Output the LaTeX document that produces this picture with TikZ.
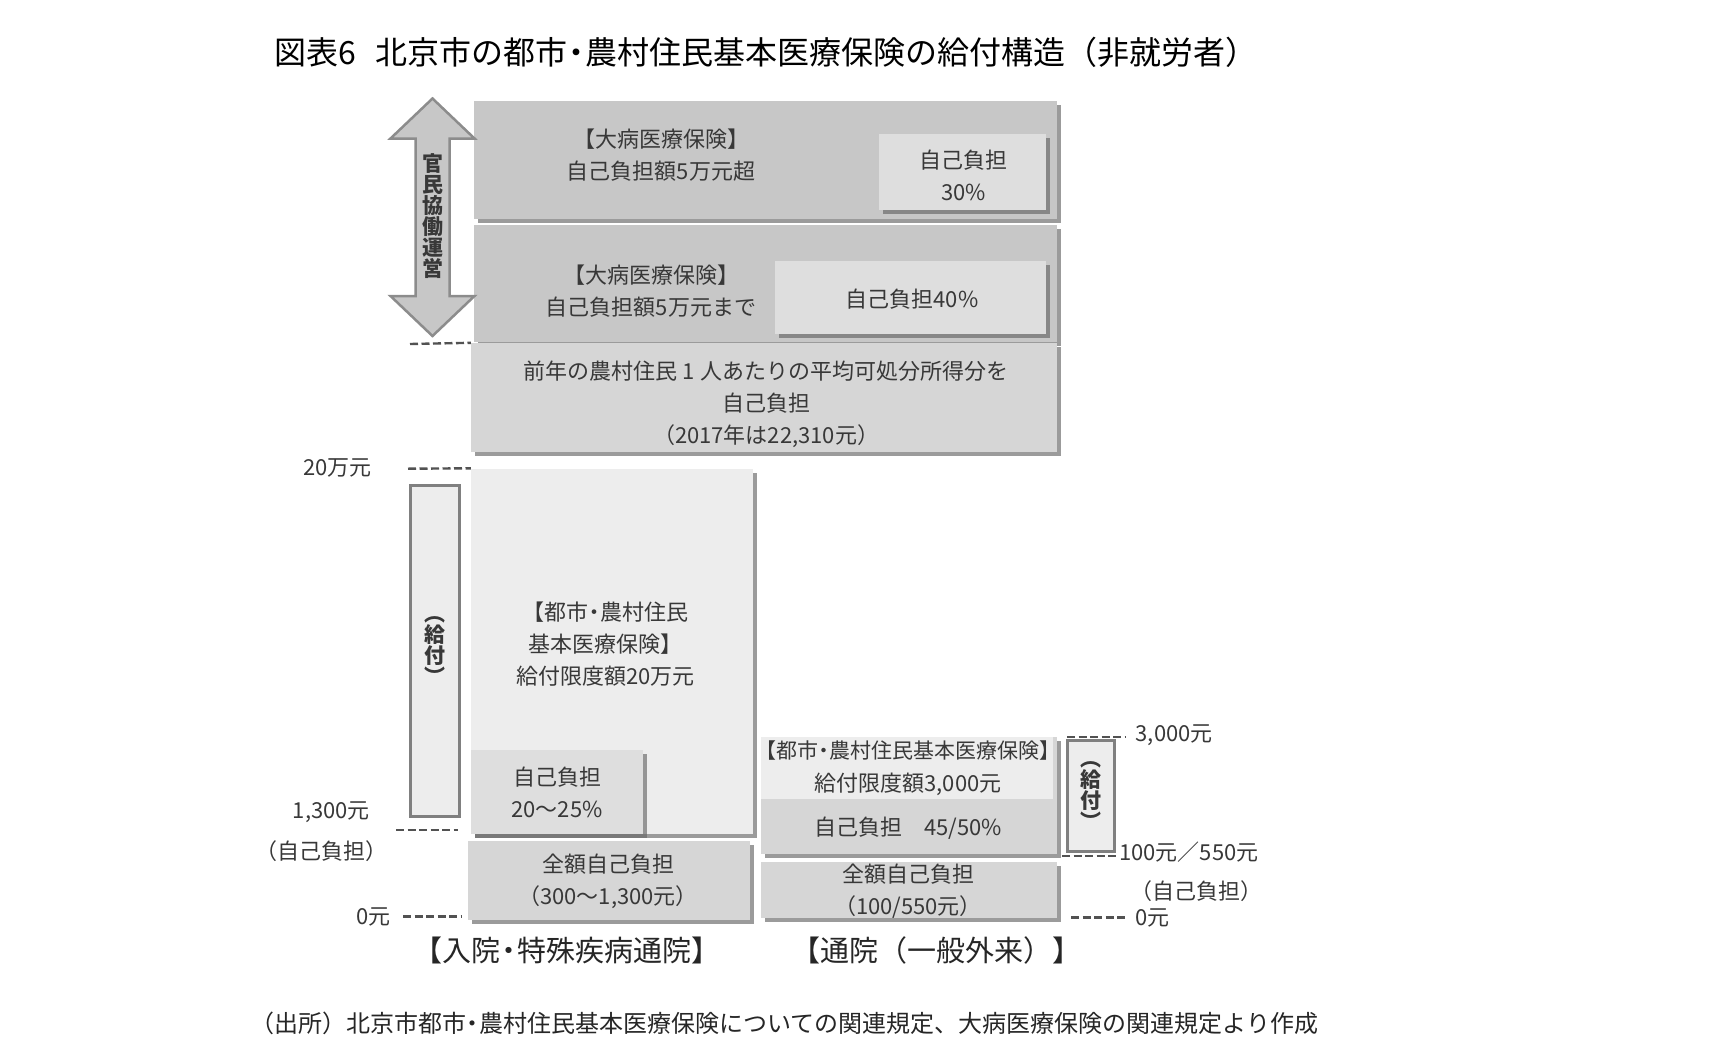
\documentclass[tikz,border=0pt]{standalone}
\usepackage{fontspec}
\setmainfont{Noto Sans CJK JP}
\usetikzlibrary{shadows}
\definecolor{slabdark}{gray}{0.78}
\definecolor{slabpale}{gray}{0.87}
\definecolor{slabmid}{gray}{0.84}
\definecolor{slablight}{gray}{0.93}
\definecolor{inklabel}{gray}{0.22}
\definecolor{rimgray}{gray}{0.5}
\newcommand\ndot{\kern-0.22em・\kern-0.22em}

\begin{document}
\begin{tikzpicture}[x=1pt,y=-1pt,
  slab/.style={fill=#1,inner sep=0pt,drop shadow={shadow xshift=4pt,shadow yshift=-4pt,fill=black!60,opacity=.65}},
  boxtext/.style={align=center,inner sep=0pt,text=inklabel,font=\fontsize{22}{32}\selectfont},
  ticklabel/.style={inner sep=0pt,text=inklabel,font=\fontsize{22}{28}\selectfont},
  dashtick/.style={dash pattern=on 8pt off 3.5pt,line width=2.4pt,draw=black!68},
  benefit/.style={draw=rimgray,line width=3pt,fill=slablight,inner sep=0pt},
  vtext/.style={align=center,inner sep=0pt,text=inklabel,font=\fontsize{21}{21}\selectfont\bfseries},
  groupname/.style={inner sep=0pt,text=black!85,font=\fontsize{29}{34}\selectfont}]
\useasboundingbox (0,0) rectangle (1717,1063);
% title and source
\node[anchor=west,inner sep=0pt,font=\fontsize{32}{36}\selectfont] (title) at (274,52.5){図表6\hspace{0.6em}北京市の都市\ndot 農村住民基本医療保険の給付構造（非就労者）};
\node[anchor=west,inner sep=0pt,text=black!85,font=\fontsize{24}{28}\selectfont] (source) at (250,1023){（出所）北京市都市\ndot 農村住民基本医療保険についての関連規定、大病医療保険の関連規定より作成};
% upper blocks
\node[slab=slabdark,minimum width=583pt,minimum height=118pt] (catHigh) at (765.5,160){};
\node[slab=slabpale,minimum width=167pt,minimum height=76pt] (shareHigh) at (962.5,172){};
\node[slab=slabdark,minimum width=583pt,minimum height=117pt] (catLow) at (765.5,283){};
\node[slab=slabpale,minimum width=271pt,minimum height=73pt] (shareLow) at (910.5,297){};
\node[slab=slabmid,minimum width=586pt,minimum height=109pt] (deductible) at (764,397.5){};
% inpatient blocks
\node[slab=slablight,minimum width=282pt,minimum height=365pt] (inpatient) at (612,651){};
\node[slab=slabpale,minimum width=172pt,minimum height=84pt] (shareIn) at (557,792){};
\node[slab=slabmid,minimum width=282pt,minimum height=79pt] (baseIn) at (609,880.5){};
% outpatient blocks
\node[slab=slabmid,minimum width=296pt,minimum height=117pt] (outpatient) at (909,795.5){};
\node[fill=slablight,inner sep=0pt,minimum width=292pt,minimum height=62pt,anchor=north west] (capOut) at (outpatient.north west){};
\node[slab=slabmid,minimum width=296pt,minimum height=56pt] (baseOut) at (909,890){};
% benefit bars
\node[benefit,minimum width=49pt,minimum height=331pt] (benefitIn) at (435,650.5){};
\node[benefit,minimum width=47pt,minimum height=111pt] (benefitOut) at (1091,795.5){};
\node[vtext] at (benefitIn){︵\\給\\付\\︶};
\node[vtext] at (benefitOut){︵\\給\\付\\︶};
% public-private arrow
\path[draw=black!45,line width=2.5pt,fill=slabdark] (432.5,98.5) -- (474.5,138.5) -- (449.5,138.5) -- (449.5,296) -- (474.5,296) -- (432.5,336) -- (390.5,296) -- (415.5,296) -- (415.5,138.5) -- (390.5,138.5) -- cycle;
\node[vtext] (pppLabel) at (432.5,216){官\\民\\協\\働\\運\\営};
% block texts
\node[boxtext] at (661,155.5){【大病医療保険】\\自己負担額5万元超};
\node[boxtext] at (963.5,175){自己負担\\30\%};
\node[boxtext] at (651,291){【大病医療保険】\\自己負担額5万元まで};
\node[boxtext] at (912,299){自己負担40\%};
\node[boxtext] at (766,404){前年の農村住民 1 人あたりの平均可処分所得分を\\自己負担\\（2017年は22,310元）};
\node[boxtext] at (605.5,644){【都市\ndot 農村住民\\基本医療保険】\\給付限度額20万元};
\node[boxtext] at (shareIn){自己負担\\20～25\%};
\node[boxtext] at (608,881){全額自己負担\\（300～1,300元）};
\node[boxtext,font=\fontsize{21}{32}\selectfont] at (908,751){【都市\ndot 農村住民基本医療保険】};
\node[boxtext] at (908,784){給付限度額3,000元};
\node[boxtext] at (908,828){自己負担\quad 45/50\%};
\node[boxtext] at (908,891){全額自己負担\\（100/550元）};
% scale ticks, inpatient
\draw[dashtick] (410,344) -- (deductible.north west);
\node[ticklabel,anchor=east] (lbl200k) at (372,468){20万元};
\draw[dashtick] (408,468.7) -- (inpatient.north west);
\node[ticklabel,anchor=east] (lbl1300) at (370,812.5){1,300元};
\node[ticklabel] (lblOwnIn) at (321,851){（自己負担）};
\draw[dashtick] (396,830) -- (458,830);
\node[ticklabel,anchor=east] (lblZeroIn) at (391,916.5){0元};
\draw[dashtick] (403,916.5) -- (462,916.5);
% scale ticks, outpatient
\draw[dashtick] (1067,737) -- (1126,737);
\node[ticklabel,anchor=west] (lbl3000) at (1135.5,735){3,000元};
\draw[dashtick] (1062,856) -- (1117,856);
\node[ticklabel,anchor=west] (lbl100) at (1119,852){100元／550元};
\node[ticklabel] (lblOwnOut) at (1196,891){（自己負担）};
\draw[dashtick] (1071,917.5) -- (1128,917.5);
\node[ticklabel,anchor=west] (lblZeroOut) at (1135.5,917.5){0元};
% group names
\node[groupname] at (567,950.5){【入院\ndot 特殊疾病通院】};
\node[groupname] at (936,950.5){【通院（一般外来）】};
\end{tikzpicture}
\end{document}
